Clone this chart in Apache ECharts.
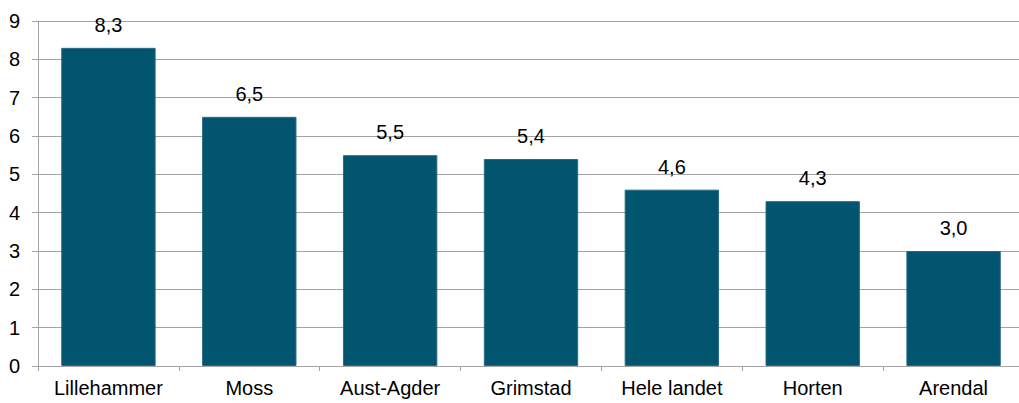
<!DOCTYPE html>
<html>
<head>
<meta charset="utf-8">
<script src="https://cdn.jsdelivr.net/npm/echarts@6/dist/echarts.min.js"></script>
<style>
  html, body { margin: 0; padding: 0; background: #fff; overflow: hidden; }
  #chart { width: 1019px; height: 403px; }
</style>
</head>
<body>
<div id="chart"></div>
<script>
// Categories and values
const categories = ['Lillehammer', 'Moss', 'Aust-Agder', 'Grimstad', 'Hele landet', 'Horten', 'Arendal'];
const values = [8.3, 6.5, 5.5, 5.4, 4.6, 4.3, 3.0];
const yTicks = { min: 0, max: 9, interval: 1 };

const gridGrey = '#a3a3a3';
const font = 'Liberation Sans, Arial, sans-serif';

const chart = echarts.init(document.getElementById('chart'), null, { renderer: 'svg' });
chart.setOption({
  animation: false,
  // plot area runs slightly past the right edge of the canvas
  grid: { left: 38, right: -5, top: 21, bottom: 37, containLabel: false, outerBoundsMode: 'none' },
  xAxis: {
    type: 'category',
    data: categories,
    axisLine: { show: true, lineStyle: { color: gridGrey, width: 1 } },
    axisTick: { show: true, alignWithLabel: false, length: 5, lineStyle: { color: gridGrey } },
    axisLabel: { interval: 0, color: '#000', fontFamily: font, fontSize: 20, margin: 12 }
  },
  yAxis: {
    type: 'value',
    min: yTicks.min,
    max: yTicks.max,
    interval: yTicks.interval,
    axisLine: { show: true, lineStyle: { color: gridGrey, width: 1 } },
    axisTick: { show: true, length: 6, lineStyle: { color: gridGrey } },
    splitLine: { show: true, lineStyle: { color: gridGrey, width: 1 } },
    axisLabel: { color: '#000', fontFamily: font, fontSize: 20, margin: 18 }
  },
  series: [{
    type: 'bar',
    data: values,
    barWidth: '67%',
    itemStyle: { color: '#02556F', borderColor: '#2a6b84', borderWidth: 1 },
    label: {
      show: true,
      position: 'top',
      distance: 13,
      color: '#000',
      fontFamily: font,
      fontSize: 20,
      formatter: p => p.value.toFixed(1).replace('.', ',')
    }
  }]
});
</script>
</body>
</html>
